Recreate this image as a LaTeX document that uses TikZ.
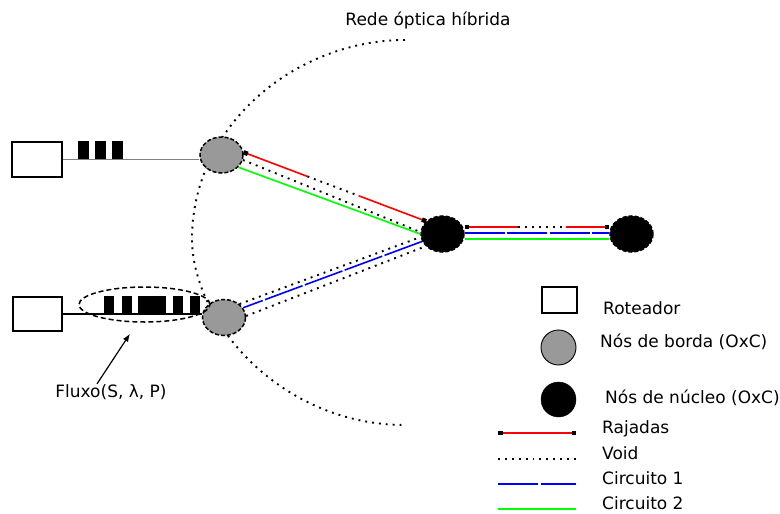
\documentclass[tikz,border=0pt]{standalone}
\usepackage{fontspec}
\setmainfont{DejaVu Sans}
\usetikzlibrary{shapes.geometric,arrows.meta,calc}

\begin{document}
\begin{tikzpicture}[x=1pt,y=-1pt,
        font=\fontsize{17}{20}\selectfont,
        roteador/.style={draw, line width=1.3pt, fill=white, minimum width=50pt, minimum height=35pt, inner sep=0pt},
        borda/.style={ellipse, draw, line width=1.5pt, dash pattern=on 4pt off 2pt, fill=gray!80, minimum width=43pt, minimum height=36pt, inner sep=0pt},
        nucleo/.style={borda, fill=black},
        rajada/.style={red, line width=1.6pt},
        vazio/.style={line width=1.9pt, dash pattern=on 1.9pt off 5pt},
        circ1/.style={blue, line width=1.6pt, dash pattern=on 40pt off 2.5pt},
        circ2/.style={green, line width=1.6pt},
        marca/.tip={Square[length=4.5pt,width=4.5pt,color=black]},
        pulso/.style={fill=black},
        rotulo/.style={anchor=base west, inner sep=0pt}]
        \useasboundingbox (0,0) rectangle (780,514);

        % Fronteira da rede optica
        \draw[vazio] (405,40) .. controls (300,40) and (195,120) .. (192,235)
                           .. controls (190,320) and (280,425) .. (405,425);
        \node (titulo) at (428,20) {Rede óptica híbrida};

        % Nos de borda e de nucleo
        \node[borda] (edgeA) at (221.5,155) {};
        \node[borda] (edgeB) at (224,317.5) {};
        \node[nucleo] (coreA) at (442.5,234) {};
        \node[nucleo] (coreB) at (631.5,234) {};

        % Roteadores de acesso
        \node[roteador] (routerA) at (37,159.5) {};
        \node[roteador, minimum width=49pt, minimum height=34pt] (routerB) at (37.5,314) {};
        \draw[gray, line width=1.1pt] (routerA.east) -- (routerA.east -| edgeA.west);
        \draw[line width=1.1pt] (routerB.east) -- (routerB.east -| edgeB.west);

        % Rajadas na fila de cada roteador
        \foreach \x in {78,95,112} \fill[pulso] (\x,141) rectangle ++(10.5,18);
        \foreach \x/\w in {104/10,122/9.5,138/28,173/10,190/10} \fill[pulso] (\x,296) rectangle ++(\w,17);

        % Fluxo agregado
        \node[ellipse, draw, line width=1.5pt, dash pattern=on 5pt off 3pt, minimum width=131pt, minimum height=35pt] (fluxo) at (144.5,304.5) {};
        \node[anchor=base, inner sep=1pt] (rotfluxo) at (111,397) {Fluxo(S, λ, P)};
        \draw[line width=1.2pt, -{Latex[length=8pt,width=6pt]}] ([xshift=-14pt,yshift=-1pt]rotfluxo.north) -- ([xshift=-14.5pt,yshift=-11pt]fluxo.south);

        % Enlace borda A - nucleo A
        \coordinate (rA1) at (edgeA.7);
        \coordinate (rA2) at (coreA.142);
        \draw[rajada, {marca}-] (rA1) -- ($(rA1)!.35!(rA2)$);
        \draw[vazio] ($(rA1)!.35!(rA2)$) -- ($(rA1)!.63!(rA2)$);
        \draw[rajada, -{marca}] ($(rA1)!.63!(rA2)$) -- (rA2);
        \draw[vazio] (edgeA.-13) -- (coreA.175);
        \draw[circ2] (edgeA.-36) -- (coreA.180);

        % Enlace borda B - nucleo A
        \draw[vazio] (edgeB.41) -- (coreA.188);
        \draw[circ1] (coreA.200) -- (edgeB.27);
        \draw[vazio] (edgeB.4) -- (coreA.216);

        % Enlace nucleo A - nucleo B
        \coordinate (rC1) at ([yshift=7pt]coreA.east);
        \coordinate (rC2) at ([yshift=7pt]coreB.west);
        \draw[rajada, {marca}-] (rC1) -- ($(rC1)!.37!(rC2)$);
        \draw[vazio] ($(rC1)!.37!(rC2)$) -- ($(rC1)!.70!(rC2)$);
        \draw[rajada, -{marca}] ($(rC1)!.70!(rC2)$) -- (rC2);
        \draw[circ1] ([yshift=1pt]coreA.east) -- ([yshift=1pt]coreB.west);
        \draw[circ2] ([yshift=-5pt]coreA.east) -- ([yshift=-5pt]coreB.west);

        % Legenda
        \node[roteador, minimum width=35pt, minimum height=26pt] (legrot) at (559.5,300) {};
        \node[circle, draw, line width=0.9pt, fill=gray!80, minimum size=35pt, inner sep=0pt] (legborda) at (558.5,347.5) {};
        \node[circle, draw, fill=black, minimum size=35pt, inner sep=0pt] (legnucleo) at (558.5,399.5) {};
        \node[rotulo] (txtrot) at (603,314) {Roteador};
        \node[rotulo] (txtborda) at (600,347) {Nós de borda (OxC)};
        \node[rotulo] (txtnucleo) at (605,403) {Nós de núcleo (OxC)};

        \coordinate (l1a) at (498,433); \coordinate (l1b) at (576,433);
        \coordinate (l2a) at (498,459); \coordinate (l2b) at (576,459);
        \coordinate (l3a) at (498,484); \coordinate (l3b) at (576,484);
        \coordinate (l4a) at (498,509); \coordinate (l4b) at (576,509);
        \draw[rajada, {marca}-{marca}] (l1a) -- (l1b);
        \draw[vazio] (l2a) -- (l2b);
        \draw[circ1] (l3a) -- (l3b);
        \draw[circ2] (l4a) -- (l4b);
        \node[rotulo] (txtraj) at (602,433) {Rajadas};
        \node[rotulo] (txtvoid) at (602,459) {Void};
        \node[rotulo] (txtc1) at (602,484) {Circuito 1};
        \node[rotulo] (txtc2) at (602,509) {Circuito 2};
\end{tikzpicture}
\end{document}
